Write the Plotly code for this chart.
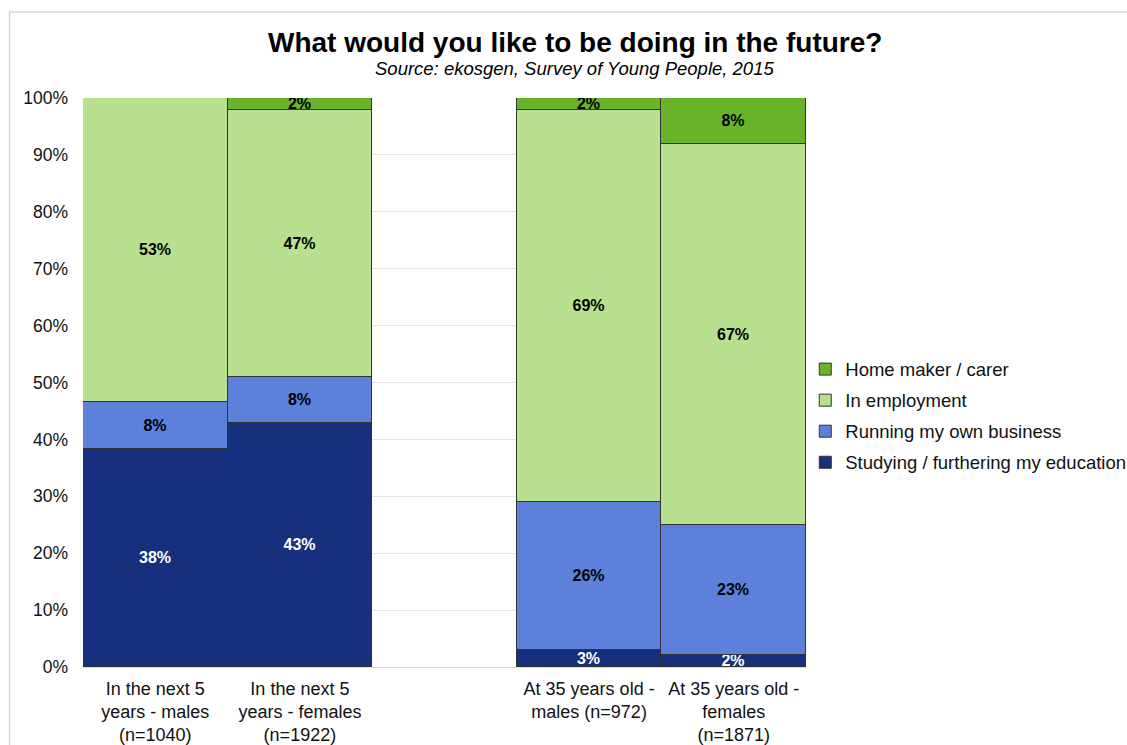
import plotly.graph_objects as go

# Categories (the blank one separates the two groups of bars)
categories = [
    "In the next 5<br>years - males<br>(n=1040)",
    "In the next 5<br>years - females<br>(n=1922)",
    " ",
    "At 35 years old -<br>males (n=972)",
    "At 35 years old -<br>females<br>(n=1871)",
]

# Shares (%) for each outcome, bottom to top of the stack
studying = [38.4, 42.9, None, 3.0, 2.1]
own_business = [8.2, 8.1, None, 26.0, 22.9]
employment = [53.4, 46.9, None, 68.9, 66.9]
home_maker = [0.0, 2.1, None, 2.1, 8.1]

# name, values, fill, label colour, legend position (top = 1)
series = [
    ("Studying / furthering my education", studying, "#17307E", "white", 4),
    ("Running my own business", own_business, "#5D81DB", "black", 3),
    ("In employment", employment, "#B9E08E", "black", 2),
    ("Home maker / carer", home_maker, "#69B32A", "black", 1),
]

FONT = "Liberation Sans, Arial"

fig = go.Figure()
for name, vals, color, tcolor, rank in series:
    labels = [("" if (v is None or v == 0) else f"{round(v):.0f}%") for v in vals]
    fig.add_trace(go.Bar(
        name=name,
        legendgroup=name,
        legendrank=rank,
        x=categories,
        y=vals,
        marker=dict(color=color, line=dict(color="#333333", width=1)),
        text=labels,
        texttemplate="%{text}",
        textposition="inside",
        insidetextanchor="middle",
        textangle=0,
        constraintext="none",
        textfont=dict(family=FONT, size=16, color=tcolor, weight="bold"),
        hoverinfo="skip",
    ))

fig.update_layout(
    barmode="stack",
    bargap=0,
    width=1127,
    height=745,
    margin=dict(l=83, r=321, t=98, b=78, autoexpand=False),
    paper_bgcolor="white",
    plot_bgcolor="white",
    font=dict(family=FONT, size=18, color="#111111"),
    uniformtext=dict(minsize=16, mode="show"),
    showlegend=True,
    legend=dict(
        traceorder="grouped",
        x=0.999, xanchor="left",
        y=0.441, yanchor="middle",
        bgcolor="rgba(0,0,0,0)",
        font=dict(size=18.5, color="#111111"),
        itemwidth=30,
        tracegroupgap=4,
    ),
    xaxis=dict(
        type="category",
        showgrid=False,
        showline=True,
        linecolor="#D9D9D9",
        linewidth=1,
        ticks="",
        ticklabelstandoff=5,
        tickfont=dict(size=18),
    ),
    yaxis=dict(
        range=[0, 100],
        dtick=10,
        ticksuffix="%",
        showgrid=True,
        gridcolor="#E3E3E3",
        gridwidth=1,
        zeroline=False,
        showline=False,
        ticks="",
        ticklabelstandoff=14,
        tickfont=dict(size=17.5),
    ),
    annotations=[
        dict(
            text="<b>What would you like to be doing in the future?</b>",
            xref="paper", yref="paper", x=0.68, y=1.098,
            xanchor="center", yanchor="middle", showarrow=False,
            font=dict(size=28, color="black"),
        ),
        dict(
            text="<i>Source: ekosgen, Survey of Young People, 2015</i>",
            xref="paper", yref="paper", x=0.68, y=1.052,
            xanchor="center", yanchor="middle", showarrow=False,
            font=dict(size=18.5, color="black"),
        ),
    ],
    shapes=[
        dict(
            type="rect", xref="paper", yref="paper",
            x0=-0.1016, x1=1.5, y0=-0.5, y1=1.151,
            line=dict(color="#D9D9D9", width=1.5),
            fillcolor="rgba(0,0,0,0)", layer="below",
        ),
    ],
)

fig.write_html("out.html")
